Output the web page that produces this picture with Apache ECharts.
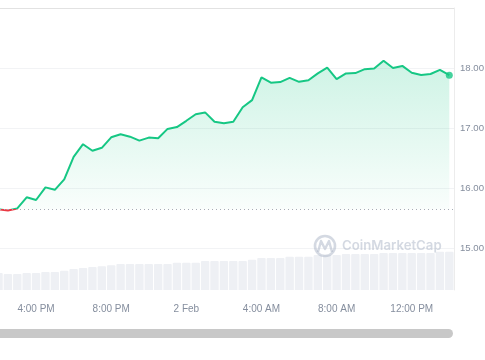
<!DOCTYPE html>
<html>
<head>
<meta charset="utf-8">
<script src="https://cdn.jsdelivr.net/npm/echarts@6/dist/echarts.min.js"></script>
<style>
html,body{margin:0;padding:0;background:#fff;}
#chart{width:485px;height:360px;}
</style>
</head>
<body>
<div id="chart"></div>
<script>
const times = ['14:00','14:30','15:00','15:30','16:00','16:30','17:00','17:30','18:00','18:30','19:00','19:30','20:00','20:30','21:00','21:30','22:00','22:30','23:00','23:30','00:00','00:30','01:00','01:30','02:00','02:30','03:00','03:30','04:00','04:30','05:00','05:30','06:00','06:30','07:00','07:30','08:00','08:30','09:00','09:30','10:00','10:30','11:00','11:30','12:00','12:30','13:00','13:30','14:00'];
const prices = [15.645,15.625,15.66,15.845,15.80,16.01,15.97,16.145,16.52,16.73,16.62,16.67,16.845,16.895,16.855,16.79,16.84,16.83,16.985,17.015,17.12,17.23,17.26,17.105,17.08,17.105,17.345,17.465,17.845,17.755,17.765,17.835,17.77,17.795,17.91,18.005,17.815,17.91,17.915,17.98,17.99,18.12,18.0,18.035,17.92,17.885,17.9,17.97,17.88];
const volumes = [170,160,160,170,170,180,180,193,210,220,230,237,247,260,260,260,260,260,260,273,273,273,290,290,290,290,290,303,320,320,320,333,333,333,350,350,350,360,360,360,360,370,370,370,370,370,370,383,383];
const openPrice = 15.645;
const tickIndex = [4,12,20,28,36,44];
const tickLabels = ['4:00 PM','8:00 PM','2 Feb','4:00 AM','8:00 AM','12:00 PM'];
const priceTicks = [15,16,17,18,19];

const lineData = prices.map((p,i)=>[i,p]);
const volData = volumes.map((v,i)=>[i,v]);
const last = lineData[lineData.length-1];

const chart = echarts.init(document.getElementById('chart'), null, {renderer:'canvas'});
const FONT = '"Liberation Sans", Arial, sans-serif';
const WFONT = 'Inter, "Noto Sans", sans-serif';
const xCommon = {
  type:'value', min:0.16, max:48.5,
  axisLine:{show:false}, axisTick:{show:false}, splitLine:{show:false}
};
chart.setOption({
  animation:false,
  backgroundColor:'#ffffff',
  grid:[
    {left:0, right:31, top:8, height:240, containLabel:false, outerBoundsMode:'none'},
    {left:0, right:31, top:248, height:42, containLabel:false, outerBoundsMode:'none'}
  ],
  xAxis:[
    Object.assign({gridIndex:0, axisLabel:{show:false}}, xCommon),
    Object.assign({gridIndex:1, axisLabel:{
      show:true, customValues:tickIndex, color:'#858e9e', fontSize:10, fontFamily:FONT, margin:14,
      formatter:(v)=>{const k=tickIndex.indexOf(Math.round(v)); return k>=0?tickLabels[k]:'';}
    }}, xCommon)
  ],
  yAxis:[
    {gridIndex:0, type:'value', position:'right', min:priceTicks[0], max:priceTicks[priceTicks.length-1], interval:1,
     axisLine:{show:true, lineStyle:{color:'#ececec'}}, axisTick:{show:false},
     axisLabel:{color:'#858e9e', fontSize:9.6, fontFamily:FONT, margin:6, showMaxLabel:false,
       formatter:(v)=>v.toFixed(2)},
     splitLine:{show:true, lineStyle:{color:['#f2f3f5','#f2f3f5','#f2f3f5','#f2f3f5','#e2e2e2'], width:1}}},
    {gridIndex:1, type:'value', position:'right', min:0, max:420,
     axisLine:{show:true, lineStyle:{color:'#ececec'}}, axisTick:{show:false},
     axisLabel:{show:false}, splitLine:{show:false}}
  ],
  visualMap:{
    show:false, seriesIndex:0, dimension:1,
    pieces:[{gte:10, lt:openPrice, color:'#ea3943'},{gte:openPrice, lte:30, color:'#16c784'}]
  },
  series:[
    {
      type:'line', xAxisIndex:0, yAxisIndex:0, data:lineData, showSymbol:false, smooth:false,
      lineStyle:{width:2},
      areaStyle:{origin:openPrice, color:new echarts.graphic.LinearGradient(0,0,0,1,[
        {offset:0, color:'rgba(22,199,132,0.3)'},
        {offset:1, color:'rgba(22,199,132,0.03)'}
      ])},
      markLine:{silent:true, symbol:'none', label:{show:false},
        lineStyle:{color:'#a6acb6', type:[1,3], width:1},
        data:[{yAxis:openPrice}]},
      z:3
    },
    {
      type:'scatter', xAxisIndex:0, yAxisIndex:0, data:[last], symbolSize:7,
      itemStyle:{color:'#16c784'}, z:4
    },
    {
      type:'bar', xAxisIndex:1, yAxisIndex:1, data:volData, barWidth:8.4,
      itemStyle:{color:'#eef0f4', borderRadius:[1,1,0,0]}, z:1
    }
  ],
  graphic:[
    {type:'circle', shape:{cx:325, cy:246, r:10}, style:{fill:'none', stroke:'rgba(170,180,198,0.5)', lineWidth:2.6}, z:10},
    {type:'polyline', shape:{points:[[318,252],[321,241],[325,249],[329,241],[332,252]]}, style:{fill:'none', stroke:'rgba(170,180,198,0.5)', lineWidth:2.4, lineJoin:'round'}, z:10},
    {type:'text', x:342, y:246, style:{text:'CoinMarketCap', font:'600 13.2px '+WFONT, fill:'rgba(170,180,198,0.5)', textVerticalAlign:'middle'}, z:10},
    {type:'rect', shape:{x:-10, y:329, width:463, height:9, r:4.5}, style:{fill:'#c8c8c8'}, z:10}
  ]
});
</script>
</body>
</html>
